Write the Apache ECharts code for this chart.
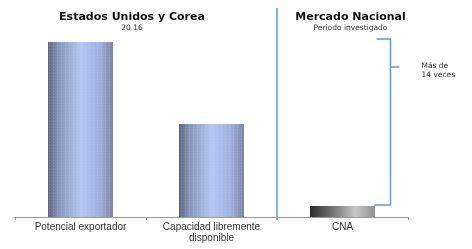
<!DOCTYPE html>
<html><head><meta charset="utf-8">
<script src="https://cdn.jsdelivr.net/npm/echarts@6/dist/echarts.min.js"></script>
<style>html,body{margin:0;padding:0;background:#fff}#c{width:472px;height:249px}</style>
</head><body><div id="c"></div>
<script>
const categories = ['Potencial exportador', 'Capacidad libremente\ndisponible', 'CNA'];
const values = [175, 93, 11];
const groupTitles = ['Estados Unidos y Corea', 'Mercado Nacional'];
const groupSubtitles = ['20 16', 'Periodo investigado'];
const bracketLabel = 'Más de\n14 veces';

const blueBar = {
  type: 'linear', x: 0, y: 0, x2: 1, y2: 0,
  colorStops: [
    {offset: 0, color: '#5d6678'},
    {offset: 0.15, color: '#8593b8'},
    {offset: 0.5, color: '#b4c8f2'},
    {offset: 0.8, color: '#9fb0de'},
    {offset: 1, color: '#7c86a4'}
  ]
};
const grayBar = {
  type: 'linear', x: 0, y: 0, x2: 1, y2: 0,
  colorStops: [
    {offset: 0, color: '#2a2a2a'},
    {offset: 0.45, color: '#8a8a8a'},
    {offset: 0.7, color: '#c8c8c8'},
    {offset: 1, color: '#909090'}
  ]
};
const decal = {symbol: 'circle', symbolSize: 0.6, dashArrayX: [3, 1], dashArrayY: [2, 1], color: 'rgba(220,235,255,0.35)', rotation: 0};

const chart = echarts.init(document.getElementById('c'));
chart.setOption({
  animation: false,
  grid: {left: 15, right: 64, top: 17, bottom: 32},
  xAxis: {
    type: 'category', data: categories,
    axisLine: {lineStyle: {color: '#9a9a9a', width: 1}},
    axisTick: {show: true, length: 3, lineStyle: {color: '#9a9a9a'}},
    axisLabel: {color: '#333', fontSize: 10, fontFamily: 'Liberation Sans', margin: 5, lineHeight: 11}
  },
  yAxis: {type: 'value', min: 0, max: 200, show: false, splitLine: {show: false}},
  series: [{
    type: 'bar', barWidth: 65,
    data: values.map((v, i) => ({value: v, itemStyle: {color: i < 2 ? blueBar : grayBar, decal: i < 2 ? decal : null}}))
  }]
});

const p0 = chart.convertToPixel({seriesIndex: 0}, [0, values[0]]);
const p1 = chart.convertToPixel({seriesIndex: 0}, [1, values[1]]);
const p2 = chart.convertToPixel({seriesIndex: 0}, [2, values[2]]);
const base = chart.convertToPixel({seriesIndex: 0}, [0, 0]);
const sepX = (p1[0] + p2[0]) / 2;
const leftCenter = (p0[0] + p1[0]) / 2 - 14;
const rightCenter = p2[0] + 8;
const bx = p2[0] + 48;
const blue = '#5b9bd5';

chart.setOption({
  graphic: [
    {type: 'line', shape: {x1: sepX, y1: 8, x2: sepX, y2: base[1] + 3}, style: {stroke: blue, lineWidth: 1.5}},
    {type: 'polyline', shape: {points: [[p2[0] + 34, p0[1] - 3], [bx, p0[1] - 3], [bx, p2[1] - 1], [p2[0] + 32, p2[1] - 1]]}, style: {stroke: blue, lineWidth: 1.5, fill: null}},
    {type: 'line', shape: {x1: bx, y1: 67, x2: bx + 9, y2: 67}, style: {stroke: blue, lineWidth: 1.5}},
    {type: 'text', x: bx + 31, y: 62, style: {text: bracketLabel, fill: '#333', font: '7.5px "DejaVu Sans"', lineHeight: 9}},
    {type: 'text', x: leftCenter, y: 12, style: {text: groupTitles[0], fill: '#111', font: 'bold 11px "DejaVu Sans"', align: 'center'}},
    {type: 'text', x: leftCenter, y: 24, style: {text: groupSubtitles[0], fill: '#333', font: '7.5px "DejaVu Sans"', align: 'center'}},
    {type: 'text', x: rightCenter, y: 12, style: {text: groupTitles[1], fill: '#111', font: 'bold 11px "DejaVu Sans"', align: 'center'}},
    {type: 'text', x: rightCenter, y: 24, style: {text: groupSubtitles[1], fill: '#333', font: '7.5px "DejaVu Sans"', align: 'center'}}
  ]
});
</script></body></html>
